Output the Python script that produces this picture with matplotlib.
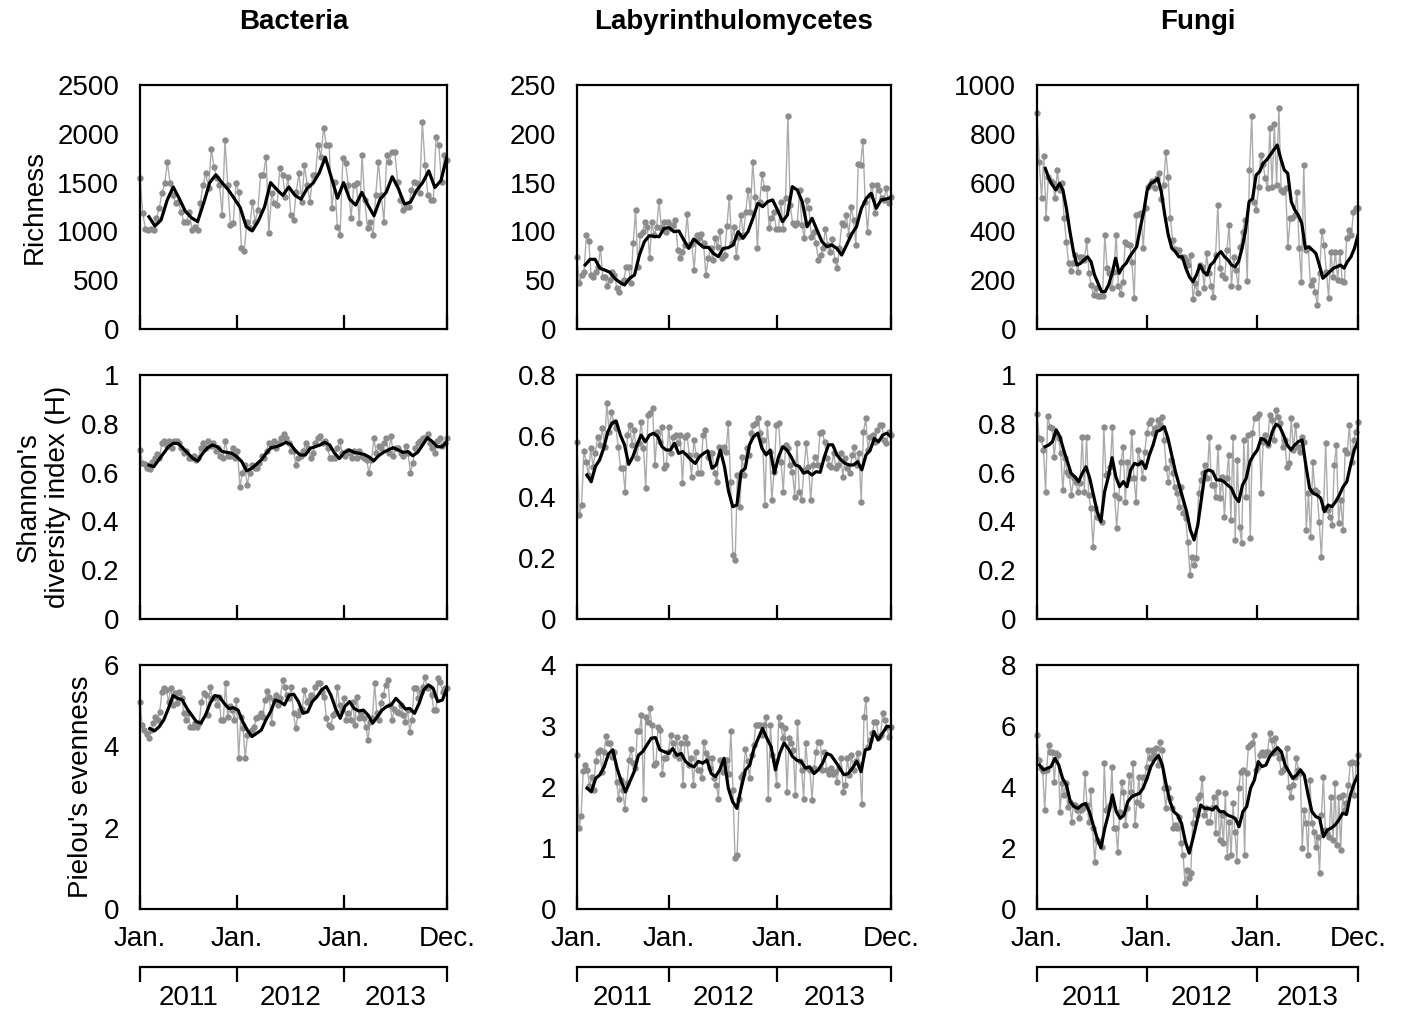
import matplotlib.pyplot as plt
import numpy as np
from matplotlib.ticker import FuncFormatter

plt.rcParams['font.family'] = ['Liberation Sans', 'DejaVu Sans']

titles = ['Bacteria', 'Labyrinthulomycetes', 'Fungi']
row_labels = ['Richness', "Shannon's\ndiversity index (H)", "Pielou's evenness"]
month_labels = ['Jan.', 'Jan.', 'Jan.', 'Dec.']
years = ['2011', '2012', '2013']
# where Jan. 2012 and Jan. 2013 fall along each column's sample axis (fraction)
year_breaks = [[0.316, 0.664], [0.293, 0.638], [0.342, 0.684]]
# fraction of the series where the moving average starts
ma_start = [[0.029, 0.026, 0.026], [0.029, 0.032, 0.025], [0.032, 0.032, 0.008]]

ymax = [[2500, 250, 1000], [1, 0.8, 1], [6, 4, 8]]
ystep = [[500, 50, 200], [0.2, 0.2, 0.2], [2, 1, 2]]

# ---- richness ----
bac_rich = [1550, 1185, 1025, 1014, 1025, 1014, 1134, 1236, 1390, 1492, 1708, 1492, 1373, 1287, 1305, 1202,
            1100, 1100, 1202, 1014, 1048, 1014, 1287, 1475, 1595, 1441, 1844, 1663, 1544, 1475, 1168, 1936,
            1475, 1065, 1083, 1492, 1407, 833, 799, 1100, 1031, 1305, 1100, 1219, 1578, 1578, 1766, 980,
            1390, 1287, 1270, 1646, 1578, 1356, 1561, 1168, 1117, 1407, 1595, 1305, 1680, 1475, 1305, 1578,
            1578, 1885, 1766, 2063, 1885, 1885, 1236, 1509, 1048, 963, 1748, 1697, 1475, 1134, 1475, 1492,
            1083, 1783, 1322, 1031, 1100, 963, 1373, 1714, 1373, 1100, 1783, 1714, 1817, 1810, 1509, 1322,
            1219, 1253, 1253, 1424, 1509, 1492, 1390, 2124, 1680, 1373, 1322, 1322, 1970, 1885, 1509, 1783,
            1731]
bac_rich_ma = [1150, 1055, 1117, 1320, 1455, 1335, 1205, 1140, 1100, 1290, 1500, 1580, 1500, 1430, 1340,
               1245, 1048, 1005, 1108, 1250, 1500, 1430, 1370, 1455, 1370, 1330, 1440, 1495, 1600, 1760,
               1550, 1340, 1500, 1330, 1270, 1400, 1270, 1160, 1330, 1400, 1560, 1440, 1280, 1300, 1420,
               1500, 1620, 1450, 1520, 1765]

lab_rich = [74.1, 46.8, 55.3, 58.7, 96.3, 90.2, 55.3, 53.6, 58.7, 63.9, 83.3, 53.6, 53.6, 44.4, 50.2, 58.7,
            55.3, 41.7, 37.6, 48.5, 50.2, 63.9, 63.9, 46.8, 87.8, 121.9, 63.9, 96.3, 99.7, 110, 104.8, 72.4,
            110, 96.3, 104.8, 131.1, 103.1, 110, 99.7, 110, 103.1, 106.5, 111.7, 80.9, 72.4, 79.2, 86.1,
            117.5, 86.1, 86.7, 60.4, 96.3, 92.9, 97, 87.8, 55.3, 72.4, 82.6, 70.7, 92.9, 84.4, 100.4, 73.1,
            75.8, 105.9, 135.6, 87.8, 104.8, 74.1, 94.6, 116.8, 96.3, 120.2, 142.4, 120.2, 171.4, 135.6, 82.6,
            130.5, 158.5, 144.1, 144.8, 103.1, 113.4, 119.5, 102.5, 102.5, 130.5, 102.5, 133.9, 218.6, 127,
            108.3, 106.5, 108.3, 142.4, 106.5, 92.9, 132.2, 123.6, 94.6, 99.7, 87.8, 70.7, 75.8, 82.6, 102.5,
            86.1, 79.2, 92.2, 70.7, 62.2, 82.6, 108.3, 106.5, 116.8, 96.3, 125.3, 111.7, 86.1, 168.7, 168,
            192.6, 130.5, 99.7, 137.3, 147.5, 118.5, 147.5, 142.4, 133.9, 132.2, 144.1, 128.7, 135.6]
lab_rich_ma = [65.6, 71.4, 71.4, 62.2, 60.4, 58.1, 51.9, 47.8, 45.1, 51.9, 55.3, 75.8, 89.5, 95.6, 94.9,
               94.6, 103.1, 103.8, 99.7, 100.4, 91.2, 82.6, 92.2, 87.8, 83.7, 83.7, 77.5, 74.1, 82.6, 83.3,
               86.1, 99.7, 92.9, 99.7, 113.4, 128.7, 125.3, 130.5, 132.2, 121.9, 110, 116.8, 145.8, 142.4,
               130.5, 104.8, 113.4, 101.4, 89.5, 84.4, 86.1, 82.6, 75.8, 86.1, 97, 104.8, 123.6, 133.9, 139,
               123.6, 132.2, 133.2, 134.6]

fun_rich = [884, 683, 538, 710, 456, 624, 607, 597, 535, 652, 570, 597, 453, 358, 269, 238, 269, 303, 235,
            296, 296, 283, 365, 228, 180, 139, 169, 137, 137, 137, 385, 249, 228, 167, 235, 385, 178, 142,
            191, 358, 347, 344, 276, 128, 467, 470, 474, 331, 494, 583, 590, 607, 576, 620, 638, 533, 590,
            727, 624, 453, 365, 328, 320, 324, 296, 296, 283, 262, 303, 123, 187, 146, 262, 255, 167, 310,
            228, 178, 133, 303, 508, 249, 221, 208, 324, 426, 178, 296, 242, 173, 337, 399, 447, 197, 652,
            874, 522, 488, 583, 713, 675, 617, 576, 822, 583, 839, 590, 907, 570, 563, 576, 337, 453, 456,
            467, 563, 331, 194, 672, 324, 331, 180, 201, 153, 98, 228, 402, 344, 235, 128, 317, 214, 317,
            201, 317, 197, 194, 372, 406, 385, 478, 494, 494]
fun_rich_ma = [658, 617, 590, 570, 597, 570, 494, 399, 317, 262, 269, 283, 296, 276, 221, 187, 153, 153,
               180, 228, 290, 228, 255, 269, 296, 317, 337, 413, 481, 570, 597, 604, 617, 563, 467, 385,
               331, 317, 296, 296, 249, 214, 194, 221, 262, 235, 221, 262, 276, 303, 317, 296, 283, 262,
               255, 276, 331, 406, 522, 535, 631, 645, 679, 693, 713, 734, 754, 699, 652, 638, 522, 488,
               467, 433, 331, 337, 324, 310, 262, 208, 221, 235, 249, 255, 262, 249, 276, 296, 331, 385]

# ---- Shannon ----
bac_shan = [0.693, 0.64, 0.635, 0.62, 0.615, 0.645, 0.66, 0.675, 0.66, 0.72, 0.73, 0.71, 0.73, 0.7, 0.73,
            0.73, 0.72, 0.7, 0.68, 0.69, 0.66, 0.66, 0.67, 0.65, 0.66, 0.7, 0.72, 0.7, 0.73, 0.71, 0.72,
            0.69, 0.7, 0.67, 0.66, 0.73, 0.67, 0.67, 0.7, 0.66, 0.69, 0.54, 0.6, 0.63, 0.55, 0.6, 0.63,
            0.62, 0.62, 0.64, 0.67, 0.66, 0.69, 0.72, 0.71, 0.73, 0.7, 0.72, 0.74, 0.76, 0.74, 0.72, 0.69,
            0.69, 0.63, 0.66, 0.67, 0.69, 0.72, 0.7, 0.66, 0.68, 0.72, 0.74, 0.75, 0.72, 0.73, 0.7, 0.66,
            0.66, 0.66, 0.7, 0.73, 0.68, 0.67, 0.69, 0.68, 0.66, 0.69, 0.66, 0.69, 0.67, 0.66, 0.65, 0.6,
            0.65, 0.74, 0.68, 0.71, 0.7, 0.72, 0.74, 0.68, 0.75, 0.67, 0.7, 0.7, 0.68, 0.67, 0.71, 0.68,
            0.6, 0.64, 0.7, 0.72, 0.73, 0.74, 0.74, 0.76, 0.72, 0.7, 0.68, 0.73, 0.74, 0.71, 0.72, 0.74]
bac_shan_ma = [0.631, 0.624, 0.652, 0.679, 0.706, 0.72, 0.72, 0.699, 0.679, 0.658, 0.648, 0.679, 0.702,
               0.713, 0.706, 0.686, 0.683, 0.679, 0.665, 0.645, 0.607, 0.617, 0.634, 0.652, 0.679, 0.702,
               0.706, 0.713, 0.724, 0.716, 0.689, 0.672, 0.672, 0.699, 0.706, 0.713, 0.724, 0.713, 0.679,
               0.658, 0.683, 0.693, 0.683, 0.679, 0.675, 0.665, 0.648, 0.669, 0.683, 0.693, 0.702, 0.693,
               0.683, 0.686, 0.669, 0.683, 0.713, 0.743, 0.727, 0.706, 0.706, 0.727]

lab_shan = [0.581, 0.341, 0.374, 0.551, 0.516, 0.472, 0.56, 0.5, 0.543, 0.598, 0.571, 0.625, 0.565, 0.707,
            0.614, 0.68, 0.647, 0.625, 0.565, 0.494, 0.494, 0.418, 0.603, 0.636, 0.571, 0.62, 0.527, 0.576,
            0.647, 0.56, 0.431, 0.669, 0.674, 0.693, 0.505, 0.614, 0.581, 0.631, 0.494, 0.505, 0.631,
            0.543, 0.598, 0.603, 0.576, 0.603, 0.445, 0.598, 0.603, 0.538, 0.467, 0.587, 0.538, 0.478,
            0.478, 0.603, 0.62, 0.532, 0.543, 0.543, 0.478, 0.45, 0.565, 0.554, 0.565, 0.549, 0.642, 0.45,
            0.21, 0.193, 0.472, 0.368, 0.532, 0.472, 0.56, 0.538, 0.609, 0.636, 0.642, 0.658, 0.609, 0.587,
            0.374, 0.642, 0.549, 0.39, 0.483, 0.636, 0.642, 0.516, 0.418, 0.571, 0.56, 0.505, 0.483, 0.401,
            0.576, 0.418, 0.39, 0.489, 0.576, 0.5, 0.39, 0.505, 0.532, 0.505, 0.609, 0.614, 0.581, 0.527,
            0.505, 0.5, 0.543, 0.494, 0.505, 0.543, 0.467, 0.527, 0.494, 0.478, 0.538, 0.565, 0.505, 0.543,
            0.385, 0.614, 0.658, 0.554, 0.598, 0.603, 0.581, 0.62, 0.636, 0.636, 0.587, 0.576, 0.614, 0.603]
lab_shan_ma = [0.472, 0.45, 0.5, 0.521, 0.56, 0.614, 0.642, 0.649, 0.603, 0.571, 0.507, 0.532, 0.571,
               0.603, 0.581, 0.603, 0.609, 0.598, 0.565, 0.554, 0.554, 0.576, 0.543, 0.549, 0.536, 0.521,
               0.51, 0.532, 0.543, 0.551, 0.494, 0.505, 0.554, 0.5, 0.418, 0.368, 0.374, 0.483, 0.494,
               0.571, 0.598, 0.609, 0.56, 0.538, 0.554, 0.478, 0.532, 0.565, 0.554, 0.532, 0.505, 0.5,
               0.478, 0.483, 0.472, 0.483, 0.481, 0.532, 0.571, 0.571, 0.538, 0.521, 0.51, 0.505, 0.505,
               0.516, 0.489, 0.538, 0.554, 0.592, 0.581, 0.603, 0.609, 0.598]

fun_shan = [0.839, 0.743, 0.738, 0.693, 0.522, 0.833, 0.788, 0.781, 0.665, 0.761, 0.74, 0.679, 0.529,
            0.658, 0.604, 0.59, 0.508, 0.577, 0.563, 0.522, 0.556, 0.747, 0.522, 0.747, 0.508, 0.454, 0.296,
            0.454, 0.419, 0.413, 0.399, 0.788, 0.59, 0.597, 0.624, 0.788, 0.508, 0.372, 0.495, 0.645, 0.706,
            0.481, 0.645, 0.577, 0.768, 0.577, 0.481, 0.693, 0.645, 0.577, 0.686, 0.761, 0.802, 0.816,
            0.761, 0.781, 0.816, 0.795, 0.829, 0.734, 0.617, 0.563, 0.652, 0.597, 0.542, 0.515, 0.46, 0.542,
            0.433, 0.413, 0.317, 0.18, 0.255, 0.221, 0.249, 0.515, 0.57, 0.597, 0.631, 0.577, 0.747, 0.549,
            0.549, 0.501, 0.706, 0.495, 0.583, 0.419, 0.577, 0.672, 0.406, 0.747, 0.324, 0.652, 0.378, 0.31,
            0.734, 0.501, 0.754, 0.331, 0.761, 0.822, 0.829, 0.839, 0.515, 0.727, 0.754, 0.713, 0.836,
            0.816, 0.734, 0.857, 0.829, 0.802, 0.706, 0.734, 0.624, 0.638, 0.822, 0.693, 0.795, 0.706,
            0.686, 0.747, 0.727, 0.365, 0.515, 0.337, 0.645, 0.529, 0.522, 0.399, 0.255, 0.454, 0.72, 0.447,
            0.419, 0.385, 0.631, 0.713, 0.392, 0.488, 0.365, 0.693, 0.679, 0.795, 0.645, 0.734, 0.768, 0.809]
fun_shan_ma = [0.706, 0.713, 0.727, 0.775, 0.747, 0.693, 0.645, 0.597, 0.583, 0.563, 0.597, 0.624, 0.577,
               0.508, 0.44, 0.399, 0.522, 0.583, 0.661, 0.583, 0.542, 0.563, 0.542, 0.611, 0.638, 0.631,
               0.645, 0.617, 0.672, 0.713, 0.768, 0.775, 0.788, 0.74, 0.672, 0.604, 0.549, 0.495, 0.44,
               0.365, 0.324, 0.385, 0.495, 0.604, 0.611, 0.604, 0.57, 0.57, 0.563, 0.549, 0.536, 0.501,
               0.481, 0.549, 0.577, 0.645, 0.672, 0.693, 0.74, 0.734, 0.713, 0.768, 0.798, 0.788, 0.754,
               0.713, 0.693, 0.713, 0.727, 0.734, 0.631, 0.536, 0.515, 0.508, 0.495, 0.44, 0.467, 0.46,
               0.481, 0.508, 0.542, 0.563, 0.631, 0.693, 0.727]

# ---- Pielou ----
bac_piel = [5.10, 4.52, 4.40, 4.30, 4.21, 4.40, 4.57, 4.73, 4.65, 4.85, 5.34, 5.43, 5.39, 5.10, 5.43, 5.02,
            5.30, 5.06, 5.34, 5.18, 4.81, 4.65, 4.81, 4.48, 4.48, 4.57, 4.48, 4.57, 5.10, 5.30, 5.26, 4.77,
            5.47, 5.18, 5.22, 5.02, 5.22, 4.65, 4.65, 5.55, 4.73, 4.98, 4.89, 4.65, 5.14, 3.71, 4.73, 4.44,
            3.71, 4.28, 4.36, 4.40, 4.48, 4.69, 4.73, 4.81, 4.73, 5.14, 5.36, 5.22, 4.57, 5.14, 5.26, 5.02,
            5.18, 5.63, 5.47, 5.26, 5.18, 5.47, 4.81, 4.44, 4.77, 4.89, 4.93, 5.39, 5.10, 5.14, 5.26, 5.22,
            5.47, 5.55, 5.55, 5.34, 5.22, 4.69, 4.52, 4.48, 4.77, 4.81, 5.47, 5.02, 4.89, 5.18, 4.65, 4.81,
            4.65, 5.10, 4.52, 5.22, 4.69, 4.81, 4.69, 4.48, 4.16, 4.61, 4.69, 5.55, 4.81, 4.65, 5.06, 5.26,
            5.51, 5.63, 5.02, 4.65, 4.93, 4.85, 4.81, 5.02, 4.77, 4.61, 4.89, 4.36, 4.65, 5.43, 5.43, 5.18,
            5.34, 5.47, 5.71, 5.43, 5.47, 5.26, 4.89, 4.89, 5.67, 5.59, 5.34, 5.43, 5.43]
bac_piel_ma = [4.44, 4.38, 4.48, 4.65, 4.93, 5.25, 5.18, 5.14, 4.93, 4.77, 4.61, 4.57, 4.77, 5.06, 5.25,
               5.22, 5.06, 4.93, 4.95, 4.89, 4.61, 4.40, 4.24, 4.32, 4.40, 4.65, 4.85, 5.14, 5.10, 5.02,
               5.26, 5.28, 5.10, 4.81, 4.85, 5.10, 5.22, 5.39, 5.47, 5.26, 4.93, 4.69, 4.98, 5.10, 4.93,
               4.87, 4.89, 4.77, 4.57, 4.73, 4.89, 4.98, 5.02, 5.18, 5.06, 4.92, 4.93, 4.81, 5.06, 5.39,
               5.51, 5.43, 5.10, 5.14, 5.43]

lab_piel = [2.52, 1.32, 1.53, 2.26, 2.36, 2.28, 2.01, 2.17, 1.95, 2.42, 2.58, 2.61, 2.25, 2.58, 2.84, 2.72,
            2.72, 2.50, 2.58, 2.09, 1.81, 2.11, 1.95, 1.64, 2.06, 2.44, 2.63, 2.39, 2.31, 2.91, 2.91, 3.18,
            1.80, 3.14, 3.07, 3.29, 3.02, 2.36, 2.39, 2.99, 2.93, 2.22, 2.47, 2.47, 2.58, 2.85, 2.72, 2.52,
            2.82, 2.47, 2.72, 2.03, 2.82, 2.72, 2.36, 2.47, 2.03, 2.58, 2.28, 2.28, 2.14, 2.74, 2.55, 2.47,
            2.31, 2.47, 2.14, 2.03, 1.81, 2.44, 2.25, 2.44, 2.44, 2.22, 2.91, 1.95, 0.83, 0.89, 1.81, 2.17,
            2.22, 2.63, 2.42, 2.14, 2.52, 2.69, 3.02, 3.02, 3.02, 2.85, 3.02, 3.15, 1.81, 3.02, 2.52, 2.42,
            2.03, 3.15, 3.02, 2.80, 2.96, 1.92, 2.80, 2.72, 2.61, 1.87, 3.07, 2.42, 2.28, 1.81, 2.72, 2.31,
            2.28, 1.79, 2.31, 2.58, 2.74, 2.74, 2.28, 2.58, 2.28, 2.22, 2.31, 2.22, 2.25, 2.09, 2.31, 2.47,
            1.92, 2.03, 2.47, 2.20, 2.52, 2.28, 2.42, 2.55, 2.36, 1.72, 3.15, 3.45, 2.66, 2.77, 2.88, 3.07,
            3.07, 2.82, 2.85, 3.21, 3.10, 2.99, 2.82, 2.99]
lab_piel_ma = [1.98, 1.92, 2.14, 2.20, 2.33, 2.54, 2.61, 2.31, 2.09, 1.92, 2.09, 2.25, 2.52, 2.58, 2.69,
               2.80, 2.81, 2.61, 2.58, 2.55, 2.63, 2.52, 2.55, 2.42, 2.36, 2.33, 2.42, 2.39, 2.44, 2.22,
               2.17, 2.28, 2.47, 1.98, 1.76, 1.65, 1.98, 2.28, 2.36, 2.63, 2.80, 2.96, 2.80, 2.66, 2.28,
               2.55, 2.72, 2.63, 2.50, 2.44, 2.42, 2.31, 2.33, 2.22, 2.28, 2.39, 2.55, 2.52, 2.42, 2.31,
               2.20, 2.22, 2.31, 2.42, 2.25, 2.61, 2.63, 2.91, 2.77, 2.88, 2.99, 2.99]

fun_piel = [5.71, 4.89, 4.61, 4.53, 3.25, 4.56, 5.38, 5.16, 5.16, 4.18, 5.10, 5.05, 3.19, 4.12, 3.74, 4.12,
            3.36, 3.52, 2.86, 3.41, 3.41, 3.25, 2.97, 3.25, 3.30, 4.45, 3.41, 2.86, 3.90, 2.65, 1.55, 2.26,
            2.21, 2.21, 2.04, 4.78, 3.25, 3.30, 3.41, 4.67, 2.65, 2.65, 1.88, 3.19, 4.18, 3.85, 2.75, 3.30,
            4.39, 3.85, 4.78, 2.75, 3.52, 4.34, 3.41, 4.34, 4.28, 4.67, 5.21, 4.94, 5.21, 5.05, 5.27, 4.72,
            5.49, 5.21, 3.96, 3.30, 3.96, 3.63, 3.30, 2.65, 2.75, 2.65, 3.03, 2.15, 1.77, 0.84, 1.28, 1.01,
            1.17, 2.81, 3.25, 3.08, 3.63, 3.74, 4.28, 3.08, 3.30, 2.86, 2.86, 3.30, 3.68, 2.48, 3.85, 2.26,
            3.08, 2.15, 3.79, 1.72, 2.86, 1.77, 3.46, 2.54, 1.57, 3.96, 4.50, 4.56, 1.77, 4.45, 5.32, 5.38,
            5.43, 5.71, 4.56, 4.67, 5.05, 5.16, 5.05, 5.16, 5.16, 5.76, 5.54, 5.10, 5.60, 5.16, 4.94, 4.50,
            4.56, 4.61, 5.27, 4.01, 3.68, 4.07, 4.34, 4.94, 4.56, 4.45, 1.99, 3.25, 2.81, 1.77, 4.23, 2.81,
            2.54, 2.04, 2.37, 1.17, 3.08, 4.34, 2.59, 2.48, 2.37, 3.68, 2.26, 4.12, 2.10, 3.68, 1.93, 3.74,
            3.25, 3.46, 4.07, 4.78, 4.83, 3.74, 4.78, 5.05]
fun_piel_ma = [4.72, 4.56, 4.61, 4.67, 4.94, 4.72, 4.28, 4.07, 3.52, 3.36, 3.30, 3.41, 3.46, 3.19, 2.75,
               2.32, 2.01, 2.65, 3.14, 3.74, 3.19, 2.97, 3.08, 3.52, 3.68, 3.74, 3.79, 3.96, 4.28, 4.67,
               4.89, 5.03, 4.72, 4.07, 3.52, 3.19, 3.08, 2.81, 2.21, 1.83, 2.32, 2.86, 3.41, 3.30, 3.30,
               3.25, 3.36, 3.19, 3.19, 3.08, 3.03, 2.97, 2.70, 3.19, 3.36, 3.96, 4.23, 4.83, 4.67, 4.72,
               5.00, 5.16, 5.29, 5.16, 4.72, 4.50, 4.28, 4.39, 4.56, 4.39, 3.74, 3.19, 3.03, 2.97, 2.37,
               2.59, 2.65, 2.75, 2.92, 3.14, 3.10, 3.74, 4.12, 4.39]

raw = [[bac_rich, lab_rich, fun_rich], [bac_shan, lab_shan, fun_shan], [bac_piel, lab_piel, fun_piel]]
smooth = [[bac_rich_ma, lab_rich_ma, fun_rich_ma], [bac_shan_ma, lab_shan_ma, fun_shan_ma],
          [bac_piel_ma, lab_piel_ma, fun_piel_ma]]

W, H = 1414, 1015
fs = 20
col_px = [(140, 447), (577, 891), (1037, 1358)]
row_px = [(85, 329), (375, 619), (665, 909)]

fig = plt.figure(figsize=(W / 100, H / 100), dpi=100)
fmt = FuncFormatter(lambda v, p: f'{v:g}')

for r in range(3):
    for c in range(3):
        x0, x1 = col_px[c]
        y0, y1 = row_px[r]
        ax = fig.add_axes([x0 / W, 1 - y1 / H, (x1 - x0) / W, (y1 - y0) / H])
        g = raw[r][c]
        s = smooth[r][c]
        ax.plot(np.linspace(0, 1, len(g)), g, color='#ababab', lw=1.0, marker='o', ms=3.6,
                mfc='#8c8c8c', mec='#8c8c8c', clip_on=False, zorder=2)
        ax.plot(np.linspace(ma_start[r][c], 1, len(s)), s, color='black', lw=2.3, zorder=3)
        ax.set_xlim(0, 1)
        ax.set_ylim(0, ymax[r][c])
        yt = np.round(np.arange(0, ymax[r][c] + ystep[r][c] / 2, ystep[r][c]), 6)
        ax.set_yticks(yt)
        ax.yaxis.set_major_formatter(fmt)
        ax.tick_params(axis='y', length=0, pad=15, labelsize=fs)
        xt = [0] + year_breaks[c] + [1]
        ax.set_xticks(xt)
        ax.tick_params(axis='x', direction='in', length=10, width=1.6, pad=12, labelsize=fs)
        if r == 2:
            ax.set_xticklabels(month_labels)
        else:
            ax.tick_params(axis='x', labelbottom=False)
        for sp in ax.spines.values():
            sp.set_linewidth(1.6)
        if c == 0:
            ax.set_ylabel(row_labels[r], fontsize=fs, labelpad=7, linespacing=1.15)
        if r == 0:
            fig.text((x0 + x1) / 2 / W, 1 - 22 / H, titles[c], ha='center', va='center',
                     fontsize=fs, fontweight='bold')

# year bracket under each column
for c in range(3):
    x0, x1 = col_px[c]
    yax = fig.add_axes([x0 / W, 1 - 1008 / H, (x1 - x0) / W, 41 / H])
    yax.patch.set_visible(False)
    yax.set_xlim(0, 1)
    yax.set_ylim(0, 1)
    for side in ['left', 'right', 'bottom']:
        yax.spines[side].set_visible(False)
    yax.spines['top'].set_linewidth(1.6)
    bounds = [0] + year_breaks[c] + [1]
    yax.xaxis.tick_top()
    yax.set_xticks(bounds)
    yax.tick_params(axis='x', direction='in', length=11, width=1.6, labeltop=False, labelbottom=False)
    yax.set_yticks([])
    mids = [(a + b) / 2 for a, b in zip(bounds[:-1], bounds[1:])]
    for m, yr in zip(mids, years):
        yax.text(m, 0.25, yr, ha='center', va='center', fontsize=fs)

fig.savefig('out.png', dpi=100)
